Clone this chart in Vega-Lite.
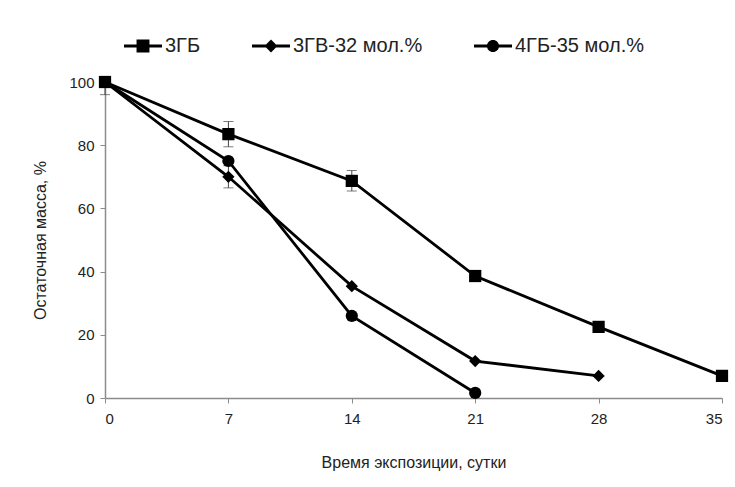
{
  "$schema": "https://vega.github.io/schema/vega-lite/v6.json",
  "width": 617,
  "height": 316,
  "autosize": {"type": "none"},
  "padding": {"left": 105, "top": 82, "right": 13, "bottom": 89},
  "background": "white",
  "config": {
    "view": {"stroke": null},
    "font": "Liberation Sans",
    "axis": {"grid": false, "domainColor": "#8c8c8c", "tickColor": "#8c8c8c", "labelColor": "#222", "titleColor": "#222", "labelFontSize": 15, "titleFontSize": 16, "titleFontWeight": "normal", "domainWidth": 1.5, "tickSize": 5}
  },
  "data": {"values": [
    {"series": "3ГБ", "t": 0, "m": 100, "lo": 96, "hi": 100},
    {"series": "3ГБ", "t": 7, "m": 83.5, "lo": 79.5, "hi": 87.5},
    {"series": "3ГБ", "t": 14, "m": 68.7, "lo": 65.5, "hi": 72},
    {"series": "3ГБ", "t": 21, "m": 38.6, "lo": null, "hi": null},
    {"series": "3ГБ", "t": 28, "m": 22.5, "lo": null, "hi": null},
    {"series": "3ГБ", "t": 35, "m": 7, "lo": null, "hi": null},
    {"series": "3ГВ-32 мол.%", "t": 0, "m": 100, "lo": null, "hi": null},
    {"series": "3ГВ-32 мол.%", "t": 7, "m": 70, "lo": 66.5, "hi": 73.5},
    {"series": "3ГВ-32 мол.%", "t": 14, "m": 35.4, "lo": null, "hi": null},
    {"series": "3ГВ-32 мол.%", "t": 21, "m": 11.7, "lo": null, "hi": null},
    {"series": "3ГВ-32 мол.%", "t": 28, "m": 7, "lo": null, "hi": null},
    {"series": "4ГБ-35 мол.%", "t": 0, "m": 100, "lo": null, "hi": null},
    {"series": "4ГБ-35 мол.%", "t": 7, "m": 75, "lo": null, "hi": null},
    {"series": "4ГБ-35 мол.%", "t": 14, "m": 26, "lo": null, "hi": null},
    {"series": "4ГБ-35 мол.%", "t": 21, "m": 1.6, "lo": null, "hi": null}
  ]},
  "encoding": {
    "x": {"field": "t", "type": "quantitative", "scale": {"domain": [0, 35], "nice": false}, "axis": {"values": [0, 7, 14, 21, 28, 35], "title": "Время экспозиции, сутки", "titlePadding": 28, "labelPadding": 8}},
    "y": {"field": "m", "type": "quantitative", "scale": {"domain": [0, 100], "nice": false}, "axis": {"values": [0, 20, 40, 60, 80, 100], "title": "Остаточная масса, %", "titlePadding": 20, "labelPadding": 6}}
  },
  "resolve": {"scale": {"shape": "independent"}, "legend": {"shape": "independent"}},
  "layer": [
    {
      "transform": [{"filter": "datum.lo != null"}],
      "mark": {"type": "errorbar", "ticks": {"size": 10, "color": "#444"}, "rule": {"color": "#444"}},
      "encoding": {
        "y": {"field": "lo", "type": "quantitative"},
        "y2": {"field": "hi"}
      }
    },
    {
      "mark": {"type": "line", "color": "black", "strokeWidth": 2.8},
      "encoding": {"detail": {"field": "series"}}
    },
    {
      "mark": {"type": "point", "filled": true, "color": "black", "opacity": 1, "size": 150},
      "encoding": {
        "shape": {"field": "series", "type": "nominal",
          "scale": {"domain": ["3ГБ", "3ГВ-32 мол.%", "4ГБ-35 мол.%"], "range": ["square", "diamond", "circle"]},
          "legend": null}
      }
    },
    {
      "transform": [{"filter": "datum.t < 0"}],
      "mark": {"type": "point", "filled": true, "color": "black", "opacity": 1},
      "encoding": {
        "shape": {"field": "series", "type": "nominal",
          "scale": {"domain": ["3ГБ", "3ГВ-32 мол.%", "4ГБ-35 мол.%"], "range": [
            "M-1,-0.08H1V0.08H-1ZM-0.34,-0.34H0.34V0.34H-0.34Z",
            "M-1,-0.08H1V0.08H-1ZM0,-0.34L0.34,0L0,0.34L-0.34,0Z",
            "M-1,-0.08H1V0.08H-1ZM-0.32,0A0.32,0.32 0 1,1 0.32,0A0.32,0.32 0 1,1 -0.32,0Z"]},
          "legend": {"title": null, "orient": "none", "direction": "horizontal", "legendX": 18, "legendY": -56, "labelFontSize": 20, "labelColor": "#222", "symbolFillColor": "black", "symbolStrokeColor": "black", "symbolSize": 1444, "symbolOpacity": 1, "columnPadding": 48, "labelOffset": 2}}
      }
    }
  ]
}
